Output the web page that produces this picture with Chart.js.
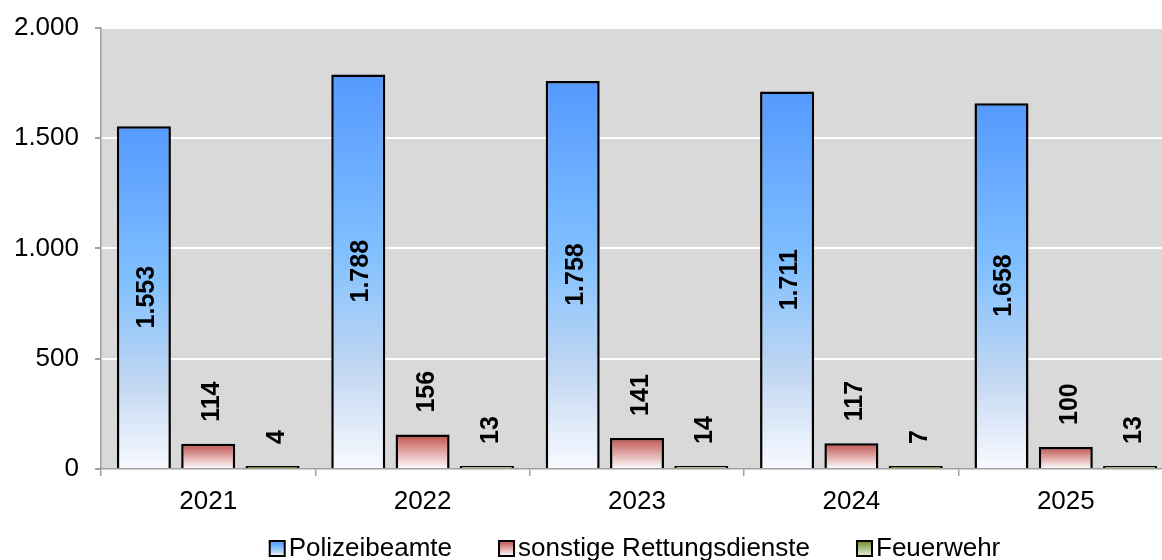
<!DOCTYPE html>
<html><head><meta charset="utf-8">
<script src="https://cdn.jsdelivr.net/npm/chart.js@4/dist/chart.umd.min.js"></script>
<style>
html,body{margin:0;padding:0;background:#fff;overflow:hidden;width:1162px;height:560px}
#wrap{width:1175px;height:560px;position:relative}
</style>
</head><body><div id="wrap"><canvas id="c" width="1175" height="560"></canvas></div>
<script>
const categories = ['2021', '2022', '2023', '2024', '2025'];
const polizei = [1553, 1788, 1758, 1711, 1658];
const rettung = [114, 156, 141, 117, 100];
const feuerwehr = [4, 13, 14, 7, 13];
const yTicks = [0, 500, 1000, 1500, 2000];
const seriesNames = ['Polizeibeamte', 'sonstige Rettungsdienste', 'Feuerwehr'];

const FONT = '"Liberation Sans", Arial, sans-serif';
const blueStops = [[0, '#5599ff'], [0.45, '#80c0ff'], [0.75, '#c2d7f2'], [1, '#f8faff']];
const redStops = [[0, '#c0504d'], [1, '#ffffff']];
const greenStops = [[0, '#6f8f2f'], [1, '#e8f0d8']];

function fmt(v) { return String(v).replace(/\B(?=(\d{3})+(?!\d))/g, '.'); }

function barGrad(stops) {
  return function (ctx) {
    const chart = ctx.chart;
    if (!chart.chartArea || !chart.scales.y) return stops[0][1];
    const ys = chart.scales.y;
    const top = ys.getPixelForValue(ctx.raw), base = ys.getPixelForValue(0);
    if (base - top < 1) return stops[0][1];
    const g = chart.ctx.createLinearGradient(0, top, 0, base);
    stops.forEach(s => g.addColorStop(s[0], s[1]));
    return g;
  };
}

const bgPlugin = {
  id: 'bg',
  beforeDraw(chart) {
    const a = chart.chartArea, c = chart.ctx;
    c.save(); c.fillStyle = '#d9d9d9'; c.fillRect(a.left, a.top, a.right - a.left, a.bottom - a.top); c.restore();
  }
};

const labelPlugin = {
  id: 'vlabels',
  afterDatasetsDraw(chart) {
    const c = chart.ctx;
    c.save();
    c.font = 'bold 25px ' + FONT;
    c.fillStyle = '#000';
    c.textBaseline = 'alphabetic';
    const cap = 18;
    chart.data.datasets.forEach((ds, i) => {
      const meta = chart.getDatasetMeta(i);
      meta.data.forEach((el, j) => {
        const txt = fmt(ds.data[j]);
        c.save();
        if (i === 0) {
          c.translate(el.x + 1 + cap / 2, (el.y + el.base) / 2);
          c.rotate(-Math.PI / 2);
          c.textAlign = 'center';
        } else {
          c.translate(el.x + 2 + cap / 2, el.y - 22);
          c.rotate(-Math.PI / 2);
          c.textAlign = 'left';
        }
        c.fillText(txt, 0, 0);
        c.restore();
      });
    });
    c.restore();
  }
};

const legendPlugin = {
  id: 'customLegend',
  afterDraw(chart) {
    const c = chart.ctx;
    c.save();
    c.font = '26px ' + FONT;
    const box = 15, gapBox = 4, gapItem = 47;
    const widths = seriesNames.map(n => c.measureText(n).width);
    const total = widths.reduce((s, w) => s + box + gapBox + w, 0) + gapItem * (seriesNames.length - 1);
    const a = chart.chartArea;
    let x = (a.left + a.right) / 2 - 2 - total / 2;
    const yTop = 541;
    const stopsArr = [blueStops, redStops, greenStops];
    seriesNames.forEach((n, i) => {
      const g = c.createLinearGradient(0, yTop, 0, yTop + box);
      stopsArr[i].forEach(s => g.addColorStop(s[0], s[1]));
      c.fillStyle = g;
      c.fillRect(x, yTop, box, box);
      c.strokeStyle = '#000'; c.lineWidth = 2;
      c.strokeRect(x, yTop, box, box);
      c.fillStyle = '#000';
      c.textAlign = 'left'; c.textBaseline = 'alphabetic';
      c.fillText(n, x + box + gapBox, 556);
      x += box + gapBox + widths[i] + gapItem;
    });
    c.restore();
  }
};

Chart.defaults.font.family = FONT;

new Chart(document.getElementById('c'), {
  type: 'bar',
  data: {
    labels: categories,
    datasets: [
      { label: seriesNames[0], data: polizei, backgroundColor: barGrad(blueStops), borderColor: '#000', borderWidth: 2.5 },
      { label: seriesNames[1], data: rettung, backgroundColor: barGrad(redStops), borderColor: '#000', borderWidth: 2.5 },
      { label: seriesNames[2], data: feuerwehr, backgroundColor: barGrad(greenStops), borderColor: '#000', borderWidth: 2.5, minBarLength: 3 }
    ]
  },
  options: {
    responsive: false,
    animation: false,
    layout: { padding: { top: 27, right: 2, left: 0, bottom: 0 } },
    datasets: { bar: { categoryPercentage: 0.9, barPercentage: 0.84 } },
    plugins: { legend: { display: false }, tooltip: { enabled: false } },
    scales: {
      x: {
        grid: { offset: true, drawOnChartArea: false, drawTicks: true, tickLength: 7, color: '#a0a0a0', lineWidth: 1.5 },
        border: { color: '#a0a0a0', width: 1.5 },
        ticks: { color: '#000', font: { size: 26 }, padding: 10 },
        afterFit(s) { s.height = 91; }
      },
      y: {
        min: 0, max: 2000,
        afterBuildTicks(s) { s.ticks = yTicks.map(v => ({ value: v })); },
        grid: {
          color: ctx => (ctx.tick && ctx.tick.value === 0) ? 'rgba(0,0,0,0)' : '#ffffff',
          lineWidth: 2, tickColor: '#a0a0a0', tickLength: 6, drawTicks: true
        },
        border: { color: '#a0a0a0', width: 1.5 },
        ticks: { color: '#000', font: { size: 26, lineHeight: 0.9 }, padding: 16, callback: v => fmt(v) },
        afterFit(s) { s.width = 101; }
      }
    }
  },
  plugins: [bgPlugin, labelPlugin, legendPlugin]
});
</script>
</body></html>
